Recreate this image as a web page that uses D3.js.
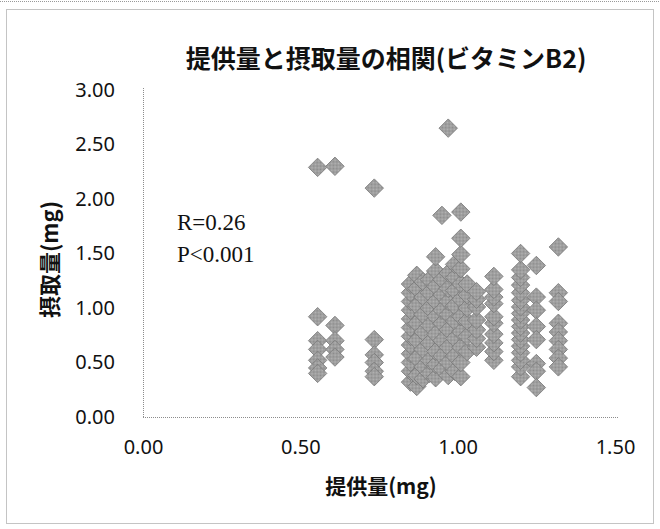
<!DOCTYPE html>
<html>
<head>
<meta charset="utf-8">
<script src="https://cdn.jsdelivr.net/npm/d3@7/dist/d3.min.js"></script>
<style>
  html, body { margin: 0; padding: 0; background: #fff; }
  svg { display: block; }
</style>
</head>
<body>
<svg id="chart" width="660" height="529"></svg>
<script>
// Supply (mg) vs intake (mg) of vitamin B2, one entry per person, listed column by column
const supplyMg = [
  0.555, 0.555, 0.555, 0.555, 0.555, 0.555, 0.555,
  0.61, 0.61, 0.61, 0.61, 0.61,
  0.735, 0.735, 0.735, 0.735, 0.735, 0.735,
  0.85, 0.85, 0.85, 0.85, 0.85, 0.85, 0.85, 0.85, 0.85, 0.85, 0.85, 0.85,
  0.87, 0.87, 0.87, 0.87, 0.87, 0.87, 0.87, 0.87,
  0.89, 0.89, 0.89, 0.89, 0.89, 0.89, 0.89,
  0.91, 0.91, 0.91, 0.91, 0.91, 0.91, 0.91,
  0.93, 0.93, 0.93, 0.93, 0.93, 0.93, 0.93, 0.93, 0.93,
  0.95, 0.95, 0.95, 0.95, 0.95, 0.95, 0.95, 0.95,
  0.97, 0.97, 0.97, 0.97, 0.97, 0.97, 0.97, 0.97, 0.97,
  0.99, 0.99, 0.99, 0.99, 0.99, 0.99, 0.99, 0.99,
  1.01, 1.01, 1.01, 1.01, 1.01, 1.01, 1.01, 1.01, 1.01, 1.01, 1.01,
  1.03, 1.03, 1.03, 1.03, 1.03, 1.03,
  1.06, 1.06, 1.06, 1.06, 1.06, 1.06, 1.06,
  1.115, 1.115, 1.115, 1.115, 1.115, 1.115, 1.115, 1.115, 1.115, 1.115,
  1.20, 1.20, 1.20, 1.20, 1.20, 1.20, 1.20, 1.20, 1.20, 1.20, 1.20, 1.20, 1.20, 1.20, 1.20, 1.20, 1.20,
  1.25, 1.25, 1.25, 1.25, 1.25, 1.25, 1.25, 1.25,
  1.32, 1.32, 1.32, 1.32, 1.32, 1.32, 1.32, 1.32, 1.32
];
const intakeMg = [
  2.29, 0.92, 0.70, 0.62, 0.52, 0.45, 0.40,
  2.30, 0.84, 0.70, 0.62, 0.55,
  2.10, 0.71, 0.57, 0.50, 0.42, 0.37,
  0.32, 0.42, 0.50, 0.58, 0.66, 0.74, 0.82, 0.90, 0.98, 1.06, 1.14, 1.22,
  0.28, 0.38, 0.54, 0.70, 0.86, 1.02, 1.18, 1.30,
  0.35, 0.46, 0.62, 0.78, 0.94, 1.10, 1.24,
  0.40, 0.52, 0.68, 0.84, 1.00, 1.14, 1.26,
  0.36, 0.48, 0.60, 0.76, 0.92, 1.06, 1.20, 1.34, 1.47,
  0.44, 0.56, 0.70, 0.86, 0.98, 1.12, 1.26, 1.85,
  0.38, 0.50, 0.64, 0.80, 0.94, 1.06, 1.18, 1.32, 2.65,
  0.42, 0.56, 0.72, 0.88, 1.02, 1.16, 1.28, 1.40,
  0.37, 0.50, 0.64, 0.78, 0.92, 1.08, 1.22, 1.36, 1.49, 1.64, 1.88,
  0.60, 0.74, 0.88, 1.00, 1.12, 1.22,
  0.64, 0.72, 0.80, 0.89, 1.01, 1.08, 1.15,
  0.52, 0.60, 0.68, 0.76, 0.86, 0.92, 1.04, 1.10, 1.17, 1.29,
  0.37, 0.46, 0.52, 0.59, 0.65, 0.71, 0.77, 0.83, 0.89, 0.95, 1.01, 1.07, 1.14, 1.21, 1.28, 1.35, 1.50,
  1.39, 1.10, 0.98, 0.83, 0.71, 0.49, 0.42, 0.27,
  1.56, 1.14, 1.06, 0.86, 0.78, 0.70, 0.62, 0.54, 0.46
];
const xTickValues = [0, 0.5, 1.0, 1.5];
const yTickValues = [0, 0.5, 1.0, 1.5, 2.0, 2.5, 3.0];
const titleText = "提供量と摂取量の相関(ビタミンB2)";
const xTitle = "提供量(mg)";
const yTitle = "摂取量(mg)";
const statLines = ["R=0.26", "P<0.001"];

const svg = d3.select("#chart");
const plot = { left: 143, right: 615, top: 90, bottom: 417 };

const x = d3.scaleLinear().domain([0, 1.5]).range([plot.left, plot.right]);
const y = d3.scaleLinear().domain([0, 3]).range([plot.bottom, plot.top]);

// Halftone-like grey fill for markers
const defs = svg.append("defs");
const pat = defs.append("pattern")
  .attr("id", "dots").attr("width", 2).attr("height", 2)
  .attr("patternUnits", "userSpaceOnUse");
pat.append("rect").attr("width", 2).attr("height", 2).attr("fill", "#b4b4b4");
pat.append("rect").attr("width", 1).attr("height", 1).attr("fill", "#8a8a8a");
pat.append("rect").attr("x", 1).attr("y", 1).attr("width", 1).attr("height", 1).attr("fill", "#8a8a8a");

// Outer chart frame
svg.append("line").attr("x1", 0).attr("x2", 660).attr("y1", 1.5).attr("y2", 1.5)
  .attr("stroke", "#999").attr("stroke-dasharray", "1,1");
svg.append("rect")
  .attr("x", 6.5).attr("y", 9.5).attr("width", 647).attr("height", 514)
  .attr("fill", "none").attr("stroke", "#888").attr("stroke-dasharray", "1,1");

// Title
svg.append("text")
  .attr("x", 386).attr("y", 68)
  .attr("text-anchor", "middle")
  .attr("font-family", "'Noto Sans CJK JP', sans-serif")
  .attr("font-weight", "bold")
  .attr("font-size", 25)
  .attr("fill", "#111")
  .text(titleText);

// Axes
const xAxis = d3.axisBottom(x).tickValues(xTickValues).tickFormat(d3.format(".2f")).tickSize(0).tickPadding(23);
const yAxis = d3.axisLeft(y).tickValues(yTickValues).tickFormat(d3.format(".2f")).tickSize(0).tickPadding(28);

const gx = svg.append("g").attr("transform", `translate(0,${plot.bottom})`).call(xAxis);
const gy = svg.append("g").attr("transform", `translate(${plot.left},0)`).call(yAxis);

[gx, gy].forEach(g => {
  g.select(".domain").attr("stroke", "#8c8c8c").attr("stroke-dasharray", "1,1");
  g.selectAll(".tick text")
    .attr("font-family", "'Noto Sans', sans-serif")
    .attr("font-size", 20)
    .attr("fill", "#111");
});
gx.select(".domain").attr("d", `M${plot.left},0.5H${plot.right + 3}`);
gy.select(".domain").attr("d", `M0.5,${plot.bottom}V${plot.top - 2}`);

// Axis titles
svg.append("text")
  .attr("x", (plot.left + plot.right) / 2 + 2).attr("y", 494)
  .attr("text-anchor", "middle")
  .attr("font-family", "'Noto Sans CJK JP', sans-serif")
  .attr("font-weight", "bold")
  .attr("font-size", 21)
  .attr("fill", "#111")
  .text(xTitle);

svg.append("text")
  .attr("transform", `translate(58,${(plot.top + plot.bottom) / 2 + 6}) rotate(-90)`)
  .attr("text-anchor", "middle")
  .attr("font-family", "'Noto Sans CJK JP', sans-serif")
  .attr("font-weight", "bold")
  .attr("font-size", 22)
  .attr("fill", "#111")
  .text(yTitle);

// Markers: squares turned 45 degrees
const marker = d3.symbol().type(d3.symbolSquare).size(170);
svg.append("g")
  .selectAll("path")
  .data(supplyMg.map((s, i) => [s, intakeMg[i]]))
  .join("path")
  .attr("d", marker)
  .attr("transform", d => `translate(${x(d[0])},${y(d[1])}) rotate(45)`)
  .attr("fill", "url(#dots)")
  .attr("stroke", "#7a7a7a")
  .attr("stroke-width", 0.8);

// Correlation statistics
svg.append("g")
  .selectAll("text")
  .data(statLines)
  .join("text")
  .attr("x", 177)
  .attr("y", (d, i) => 230 + i * 32)
  .attr("font-family", "'Liberation Serif', serif")
  .attr("font-size", 23)
  .attr("fill", "#111")
  .text(d => d);
</script>
</body>
</html>
